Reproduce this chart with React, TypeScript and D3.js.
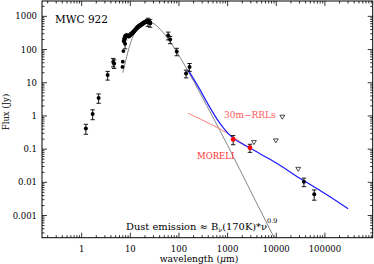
import React, { useRef, useEffect } from "react";
import { select, scaleLog, line, curveMonotoneX } from "d3";

const W = 374;
const H = 264;

// photometry with error bars (wavelength um, flux Jy, error Jy)
const photLam = [1.22, 1.68, 2.23, 3.42, 4.45, 4.65, 7.8, 23, 25.5, 60, 66, 90, 140, 165, 37000, 60300];
const photFlux = [0.42, 1.15, 3.5, 17, 42, 38, 150, 690, 640, 265, 200, 87, 19, 30, 0.0104, 0.0044];
const photErr = [0.14, 0.38, 1.1, 5, 12, 11, 45, 190, 170, 70, 50, 22, 5, 8, 0.003, 0.0015];

// points without error bars
const ptLam = [6.9, 7.0, 7.2];
const ptFlux = [30, 43, 90];

// mid-IR spectrum
const specLam = [7.4, 7.6, 7.8, 8.0, 8.2, 8.4, 8.7, 9.0, 9.3, 9.6, 10.0, 10.4, 10.8, 11.2, 11.6, 12.0, 12.5, 13.0, 13.5, 14.0, 14.5, 15.0, 15.5, 16.0, 16.6, 17.2, 17.8, 18.4, 19.0, 19.7, 20.4, 21.1, 21.8, 22.5, 23.2, 24.0, 24.8, 25.6];
const specFlux = [180, 215, 240, 255, 262, 265, 262, 255, 250, 262, 280, 295, 305, 320, 340, 360, 385, 410, 440, 465, 490, 505, 520, 540, 560, 580, 600, 620, 640, 660, 680, 700, 710, 705, 700, 690, 660, 630];

// mm points (red)
const redLam = [1300, 2880];
const redFlux = [0.196, 0.11];
const redErr = [0.06, 0.03];

// upper limits
const limLam = [3475, 9800, 13300, 28250];
const limFlux = [0.16, 0.18, 0.93, 0.025];

// dust model B_nu(170K)*nu^0.9
const dustLam = [7, 8, 10, 12, 15, 18, 22, 27, 35, 50, 70, 100, 150, 300, 1000, 3000, 10000];
const dustFlux = [20, 45, 150, 300, 510, 645, 700, 660, 515, 295, 150, 66, 24, 3.7, 0.13, 0.0053, 0.00016];

// total fit (blue)
const fitLam = [155, 250, 400, 600, 900, 1300, 2000, 3000, 5000, 10000, 30000, 100000, 300000];
const fitFlux = [24, 7.5, 2.2, 0.82, 0.37, 0.215, 0.145, 0.105, 0.068, 0.038, 0.0135, 0.0046, 0.0016];

// 30m-RRLs line (red)
const rrlLam = [155, 500, 1000, 1400, 2000, 3000];
const rrlFlux = [1.2, 0.52, 0.3, 0.22, 0.15, 0.105];

const xMajor = [1, 10, 100, 1000, 10000, 100000];
const xLabels = ["1", "10", "100", "1000", "10000", "100000"];
const yMajor = [0.001, 0.01, 0.1, 1, 10, 100, 1000];
const yLabels = ["0.001", "0.01", "0.1", "1", "10", "100", "1000"];

const FONT = "'DejaVu Serif', serif";

function SedChart() {
    const svgRef = useRef<SVGSVGElement>(null);

    useEffect(() => {
        const svg = select(svgRef.current);
        svg.selectAll("*").remove();

        const margin = { top: 1, right: 1.3, bottom: 26.3, left: 42 };
        const x = scaleLog().domain([0.153, 9.6e5]).range([margin.left, W - margin.right]);
        const y = scaleLog().domain([2.15e-4, 2900]).range([H - margin.bottom, margin.top]);
        const [x0, x1] = x.range();
        const [y0, y1] = y.range(); // y0 bottom, y1 top

        svg.append("defs").append("clipPath").attr("id", "plotclip")
            .append("rect").attr("x", x0).attr("y", y1).attr("width", x1 - x0).attr("height", y0 - y1);

        // frame
        svg.append("rect").attr("x", x0).attr("y", y1).attr("width", x1 - x0).attr("height", y0 - y1)
            .attr("fill", "none").attr("stroke", "#000").attr("stroke-width", 1);

        // ticks on all four sides, pointing in
        const ticks = svg.append("g").attr("stroke", "#000").attr("stroke-width", 0.8);
        const xMinor: number[] = [];
        for (let p = -1; p <= 5; p++) for (let m = 2; m <= 9; m++) {
            const v = m * Math.pow(10, p);
            if (v > 0.153 && v < 9.6e5) xMinor.push(v);
        }
        const yMinor: number[] = [];
        for (let p = -4; p <= 3; p++) for (let m = 2; m <= 9; m++) {
            const v = m * Math.pow(10, p);
            if (v > 2.15e-4 && v < 2900) yMinor.push(v);
        }
        const xt = [...xMajor.map((v) => ({ v, l: 5 })), ...xMinor.map((v) => ({ v, l: 2.5 }))];
        const yt = [...yMajor.map((v) => ({ v, l: 5 })), ...yMinor.map((v) => ({ v, l: 2.5 }))];
        xt.forEach((t) => {
            ticks.append("line").attr("x1", x(t.v)).attr("x2", x(t.v)).attr("y1", y0).attr("y2", y0 - t.l);
            ticks.append("line").attr("x1", x(t.v)).attr("x2", x(t.v)).attr("y1", y1).attr("y2", y1 + t.l);
        });
        yt.forEach((t) => {
            ticks.append("line").attr("y1", y(t.v)).attr("y2", y(t.v)).attr("x1", x0).attr("x2", x0 + t.l);
            ticks.append("line").attr("y1", y(t.v)).attr("y2", y(t.v)).attr("x1", x1).attr("x2", x1 - t.l);
        });

        // tick labels
        svg.append("g").selectAll("text").data(xMajor).join("text")
            .attr("x", (d) => x(d)).attr("y", y0 + 14)
            .attr("text-anchor", "middle").attr("font-family", FONT).attr("font-size", 8.5)
            .text((d, i) => xLabels[i]);
        svg.append("g").selectAll("text").data(yMajor).join("text")
            .attr("x", x0 - 5).attr("y", (d) => y(d) + 3)
            .attr("text-anchor", "end").attr("font-family", FONT).attr("font-size", 8.5)
            .text((d, i) => yLabels[i]);

        // axis titles
        const xt2 = svg.append("text").attr("x", 199).attr("y", 262)
            .attr("text-anchor", "middle").attr("font-family", FONT).attr("font-size", 9.2);
        xt2.append("tspan").text("wavelength (");
        xt2.append("tspan").attr("font-style", "italic").text("\u03bc");
        xt2.append("tspan").text("m)");
        svg.append("text").attr("transform", "translate(9,112) rotate(-90)")
            .attr("text-anchor", "middle").attr("font-family", FONT).attr("font-size", 8.5)
            .text("Flux (Jy)");

        const plot = svg.append("g").attr("clip-path", "url(#plotclip)");

        const lineGen = line<[number, number]>().x((d) => x(d[0])).y((d) => y(d[1])).curve(curveMonotoneX);

        // dust model
        plot.append("path").datum(dustLam.map((l, i) => [l, dustFlux[i]] as [number, number]))
            .attr("d", lineGen).attr("fill", "none").attr("stroke", "#666").attr("stroke-width", 0.8);
        // RRL line
        plot.append("path").datum(rrlLam.map((l, i) => [l, rrlFlux[i]] as [number, number]))
            .attr("d", lineGen).attr("fill", "none").attr("stroke", "#ff7070").attr("stroke-width", 0.9);
        // total fit
        plot.append("path").datum(fitLam.map((l, i) => [l, fitFlux[i]] as [number, number]))
            .attr("d", lineGen).attr("fill", "none").attr("stroke", "#1a1aff").attr("stroke-width", 1.2);

        // error bars
        const errBar = (g: any, l: number, f: number, e: number, color: string) => {
            const lo = Math.max(f - e, 1e-6);
            const hi = f + e;
            g.append("line").attr("x1", x(l)).attr("x2", x(l)).attr("y1", y(lo)).attr("y2", y(hi))
                .attr("stroke", color).attr("stroke-width", 0.9);
            [lo, hi].forEach((v) => g.append("line").attr("x1", x(l) - 2.2).attr("x2", x(l) + 2.2)
                .attr("y1", y(v)).attr("y2", y(v)).attr("stroke", color).attr("stroke-width", 0.9));
        };
        const pts = plot.append("g");
        photLam.forEach((l, i) => errBar(pts, l, photFlux[i], photErr[i], "#000"));
        pts.selectAll("circle.phot").data(photLam).join("circle").attr("class", "phot")
            .attr("cx", (d) => x(d)).attr("cy", (d, i) => y(photFlux[i])).attr("r", 2).attr("fill", "#000");
        pts.selectAll("circle.pt").data(ptLam).join("circle").attr("class", "pt")
            .attr("cx", (d) => x(d)).attr("cy", (d, i) => y(ptFlux[i])).attr("r", 1.9).attr("fill", "#000");
        pts.selectAll("circle.spec").data(specLam).join("circle").attr("class", "spec")
            .attr("cx", (d) => x(d)).attr("cy", (d, i) => y(specFlux[i])).attr("r", 2.2).attr("fill", "#000");

        redLam.forEach((l, i) => errBar(pts, l, redFlux[i], redErr[i], "#000"));
        pts.selectAll("circle.red").data(redLam).join("circle").attr("class", "red")
            .attr("cx", (d) => x(d)).attr("cy", (d, i) => y(redFlux[i])).attr("r", 2.4).attr("fill", "#ff0000");

        // upper limits: open down triangles
        pts.selectAll("path.lim").data(limLam).join("path").attr("class", "lim")
            .attr("d", (d, i) => {
                const cx = x(d), cy = y(limFlux[i]);
                return `M${cx - 2.4},${cy - 1.8}L${cx + 2.4},${cy - 1.8}L${cx},${cy + 2.2}Z`;
            })
            .attr("fill", "none").attr("stroke", "#000").attr("stroke-width", 0.7);

        // annotations
        svg.append("text").attr("x", 55).attr("y", 23).attr("font-family", FONT).attr("font-size", 10.5)
            .text("MWC 922");
        svg.append("text").attr("x", 224).attr("y", 117.5).attr("font-family", FONT).attr("font-size", 9)
            .attr("fill", "#ff5a5a").text("30m\u2212RRLs");
        svg.append("text").attr("x", 197).attr("y", 158.5).attr("font-family", FONT).attr("font-size", 8.5)
            .attr("fill", "#ff3030").text("MORELI");
        const dust = svg.append("text").attr("x", 126).attr("y", 230).attr("font-family", FONT).attr("font-size", 9.9);
        dust.append("tspan").text("Dust emission \u2248 B");
        dust.append("tspan").attr("font-size", 6.5).attr("dy", 2).text("\u03bd");
        dust.append("tspan").attr("dy", -2).text("(170K)*\u03bd");
        dust.append("tspan").attr("font-size", 6.5).attr("dy", -7).text("0.9");
    }, []);

    return <svg ref={svgRef} width={W} height={H} style={{ position: "absolute", left: 0, top: 0, background: "#fff" }}></svg>;
}

export default function App() {
    return <SedChart />;
}
